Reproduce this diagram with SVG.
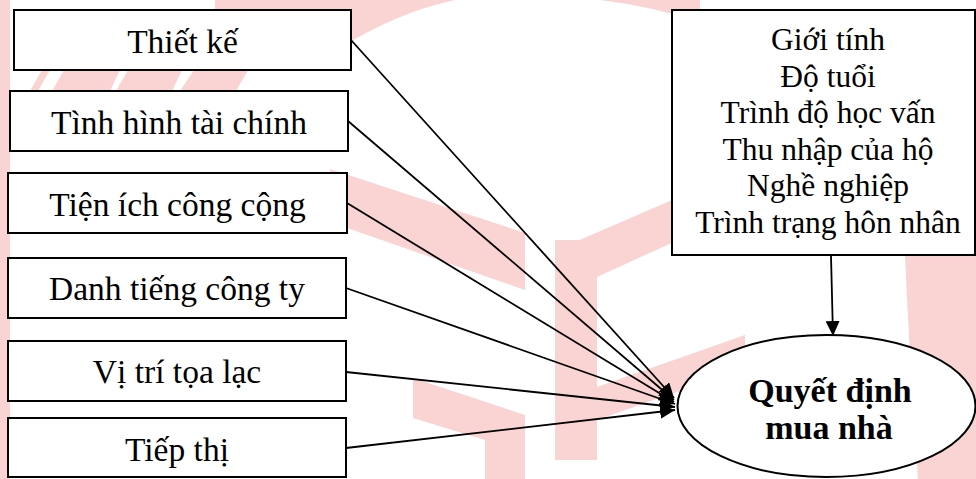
<svg xmlns="http://www.w3.org/2000/svg" width="976" height="479" viewBox="0 0 976 479">
  <defs>
    <style>
      .wm { fill: #fad3d3; }
      .box { fill: #ffffff; stroke: #000000; stroke-width: 2; }
      .lbl { font-family: "Liberation Serif", "Times New Roman", serif; font-size: 33.5px; fill: #000000; text-anchor: middle; }
      .lst { font-family: "Liberation Serif", "Times New Roman", serif; font-size: 31.5px; fill: #000000; text-anchor: middle; }
      .bold { font-family: "Liberation Serif", "Times New Roman", serif; font-size: 34px; font-weight: bold; fill: #000000; text-anchor: middle; }
      .edge { fill: none; stroke: #000000; stroke-width: 1.8; marker-end: url(#ah); }
    </style>
    <marker id="ah" markerUnits="userSpaceOnUse" markerWidth="16" markerHeight="14" refX="15" refY="7" orient="auto">
      <path d="M0,0 L15,7 L0,14 Z" fill="#000000"/>
    </marker>
  </defs>

  <rect width="976" height="479" fill="#ffffff"/>

  <!-- faint background logo -->
  <g id="watermark">
    <rect class="wm" x="0" y="0" width="10" height="479"/>
    <path class="wm" d="M215 0 H455 Q398 12 340 48 L330 70 H215 Z"/>
    <path class="wm" d="M600 0 H700 V22 Q650 6 600 0 Z"/>
    <polygon class="wm" points="30,91 42,70 50,70 38,91"/>
    <polygon class="wm" points="52,91 64,70 120,70 110,91"/>
    <polygon class="wm" points="116,91 128,70 182,70 172,91"/>
    <polygon class="wm" points="180,91 194,70 248,70 236,91"/>
    <polygon class="wm" points="330,169 525,233 525,290 330,222"/>
    <polygon class="wm" points="555,240 597,240 597,460 555,460"/>
    <polygon class="wm" points="575,242 700,188 700,230 597,277"/>
    <polygon class="wm" points="597,387 745,335 745,368 597,420"/>
    <polygon class="wm" points="413,378 525,415 525,479 485,479 485,440 413,418"/>
    <path class="wm" d="M905 255 H976 V479 H918 Q910 370 905 255 Z"/>
  </g>

  <!-- connectors -->
  <g id="connectors">
    <line class="edge" x1="351" y1="40" x2="674" y2="398"/>
    <line class="edge" x1="348" y1="121" x2="674" y2="400"/>
    <line class="edge" x1="347" y1="203" x2="674" y2="402"/>
    <line class="edge" x1="346" y1="288" x2="675" y2="404"/>
    <line class="edge" x1="346" y1="372" x2="675" y2="407"/>
    <line class="edge" x1="346" y1="448" x2="675" y2="410"/>
    <line class="edge" x1="831" y1="256" x2="833" y2="336"/>
  </g>

  <!-- factor boxes -->
  <g id="thiet-ke">
    <rect class="box" x="14" y="10" width="337" height="60"/>
    <text class="lbl" x="182.5" y="53">Thiết kế</text>
  </g>
  <g id="tinh-hinh-tai-chinh">
    <rect class="box" x="10" y="91" width="338" height="60"/>
    <text class="lbl" x="179" y="134">Tình hình tài chính</text>
  </g>
  <g id="tien-ich-cong-cong">
    <rect class="box" x="8" y="173" width="339" height="60"/>
    <text class="lbl" x="177.5" y="216">Tiện ích công cộng</text>
  </g>
  <g id="danh-tieng-cong-ty">
    <rect class="box" x="8" y="258" width="338" height="60"/>
    <text class="lbl" x="177" y="300">Danh tiếng công ty</text>
  </g>
  <g id="vi-tri-toa-lac">
    <rect class="box" x="8" y="341" width="338" height="60"/>
    <text class="lbl" x="177" y="383">Vị trí tọa lạc</text>
  </g>
  <g id="tiep-thi">
    <rect class="box" x="8" y="418" width="338" height="59"/>
    <text class="lbl" x="177" y="461">Tiếp thị</text>
  </g>

  <!-- demographic box -->
  <g id="nhan-khau-hoc">
    <rect class="box" x="672" y="10" width="303" height="245"/>
    <text class="lst" x="828" y="50">Giới tính</text>
    <text class="lst" x="828" y="86.6">Độ tuổi</text>
    <text class="lst" x="828" y="123.2">Trình độ học vấn</text>
    <text class="lst" x="828" y="159.8">Thu nhập của hộ</text>
    <text class="lst" x="828" y="196.4">Nghề nghiệp</text>
    <text class="lst" x="828" y="233">Trình trạng hôn nhân</text>
  </g>

  <!-- outcome -->
  <g id="quyet-dinh-mua-nha">
    <ellipse class="box" cx="826.5" cy="406" rx="149" ry="71"/>
    <text class="bold" x="830" y="402">Quyết định</text>
    <text class="bold" x="829" y="439">mua nhà</text>
  </g>
</svg>
